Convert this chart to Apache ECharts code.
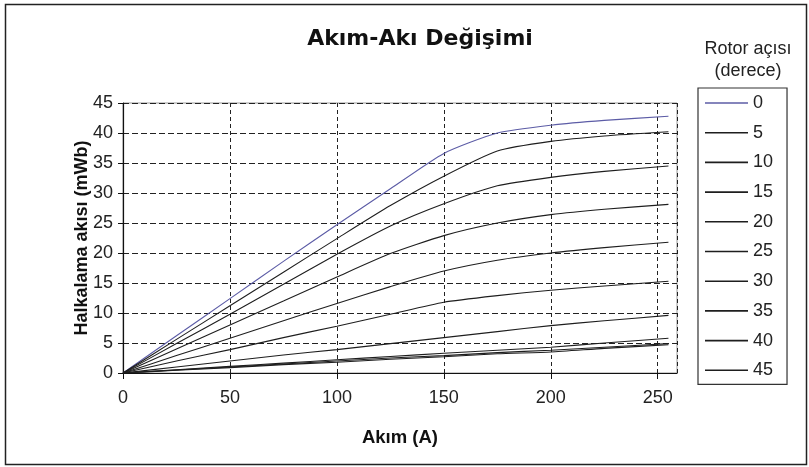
<!DOCTYPE html>
<html>
<head>
<meta charset="utf-8">
<script src="https://cdn.jsdelivr.net/npm/echarts@6/dist/echarts.min.js"></script>
<style>
html,body{margin:0;padding:0;background:#fff;}
#chart{width:809px;height:467px;}
</style>
</head>
<body>
<div id="chart"></div>
<script>
// Akım (A)
const currents = [0, 25, 50, 75, 100, 125, 150, 175, 200, 225, 255];
// Rotor açısı (derece) -> Halkalama akısı (mWb)
const angleNames = ['0', '5', '10', '15', '20', '25', '30', '35', '40', '45'];
const flux0  = [0, 6.2, 12.4, 18.6, 24.7, 30.7, 36.6, 40.0, 41.3, 42.1, 42.8];
const flux5  = [0, 5.6, 11.2, 16.8, 22.4, 27.9, 32.8, 37.0, 38.6, 39.5, 40.2];
const flux10 = [0, 4.9, 9.8, 14.8, 19.8, 24.5, 28.2, 31.2, 32.6, 33.6, 34.5];
const flux15 = [0, 4.0, 8.0, 12.0, 16.0, 19.9, 22.9, 25.0, 26.4, 27.3, 28.1];
const flux20 = [0, 2.9, 5.8, 8.7, 11.6, 14.4, 17.0, 18.8, 20.0, 20.9, 21.8];
const flux25 = [0, 2.0, 3.9, 5.9, 7.8, 9.8, 11.8, 12.9, 13.8, 14.5, 15.3];
const flux30 = [0, 1.0, 2.0, 3.0, 3.9, 4.9, 5.9, 6.9, 7.9, 8.7, 9.6];
const flux35 = [0, 0.55, 1.1, 1.65, 2.2, 2.75, 3.3, 3.8, 4.3, 5.0, 5.8];
const flux40 = [0, 0.5, 1.0, 1.5, 2.0, 2.5, 2.9, 3.4, 3.8, 4.3, 4.9];
const flux45 = [0, 0.45, 0.9, 1.4, 1.8, 2.3, 2.7, 3.2, 3.5, 4.1, 4.7];
const fluxSeries = [flux0, flux5, flux10, flux15, flux20, flux25, flux30, flux35, flux40, flux45];

const chart = echarts.init(document.getElementById('chart'), null, {renderer: 'canvas'});
const FONT = '"Liberation Sans", Arial, sans-serif';

const series = fluxSeries.map((vals, i) => ({
  name: angleNames[i],
  type: 'line',
  symbol: 'none',
  smooth: 0.2,
  data: currents.map((c, j) => [c, vals[j]]),
  lineStyle: { color: i === 0 ? '#5c5ca6' : '#1e1e1e', width: 1.1 },
  itemStyle: { color: i === 0 ? '#5c5ca6' : '#1e1e1e' },
  emphasis: { disabled: true },
  animation: false
}));

chart.setOption({
  animation: false,
  backgroundColor: '#fff',
  title: [
    { text: 'Akım-Akı Değişimi', left: 415, top: 23, textAlign: 'center',
      textStyle: { fontFamily: '"DejaVu Sans", Verdana, sans-serif', fontWeight: 'bold', fontSize: 22, color: '#111' } },
    { text: 'Rotor açısı\n(derece)', left: 743, top: 33, textAlign: 'center',
      textStyle: { fontFamily: FONT, fontWeight: 'normal', fontSize: 18, lineHeight: 22, color: '#222' } }
  ],
  grid: { left: 123, top: 103, right: 132, bottom: 94, show: true, borderColor: '#999', borderWidth: 1, backgroundColor: '#fff' },
  legend: {
    orient: 'vertical', left: 698, top: 88,
    padding: [6, 14, 5, 7],
    itemWidth: 43, itemHeight: 14, itemGap: 11.7, itemTextGap: 8,
    icon: 'path://M0,0 L43,0 L43,1.6 L0,1.6 Z',
    borderColor: '#333', borderWidth: 1.2,
    selectedMode: false,
    textStyle: { fontFamily: FONT, fontSize: 18, color: '#222', width: 24 },
    data: angleNames
  },
  xAxis: {
    type: 'value', min: 0, max: 259, interval: 50,
    name: 'Akım (A)', nameLocation: 'middle', nameGap: 55, nameMoveOverlap: false,
    nameTextStyle: { fontFamily: FONT, fontWeight: 'bold', fontSize: 18.5, color: '#111' },
    axisLine: { show: true, lineStyle: { color: '#111', width: 1.2 } },
    axisTick: { show: true, length: 6, lineStyle: { color: '#111' } },
    axisLabel: { fontFamily: FONT, fontSize: 18, color: '#222', margin: 16, showMaxLabel: false,
      formatter: v => (v % 50 === 0 ? String(v) : '') },
    splitLine: { show: true, lineStyle: { color: '#222', type: [4, 3], width: 1 } }
  },
  yAxis: {
    type: 'value', min: 0, max: 45, interval: 5,
    name: 'Halkalama akısı (mWb)', nameLocation: 'middle', nameGap: 32, nameRotate: 90, nameMoveOverlap: false,
    nameTextStyle: { fontFamily: FONT, fontWeight: 'bold', fontSize: 18, color: '#111' },
    axisLine: { show: true, lineStyle: { color: '#111', width: 1.2 } },
    axisTick: { show: true, length: 5, lineStyle: { color: '#111' } },
    axisLabel: { fontFamily: FONT, fontSize: 18, color: '#222', margin: 10 },
    splitLine: { show: true, lineStyle: { color: '#222', type: [6, 3], width: 1 } }
  },
  graphic: [
    { type: 'rect', shape: { x: 5.5, y: 4.5, width: 801, height: 460 }, silent: true, z: -1,
      style: { fill: 'none', stroke: '#222', lineWidth: 1.5 } }
  ],
  series: series
});
</script>
</body>
</html>
